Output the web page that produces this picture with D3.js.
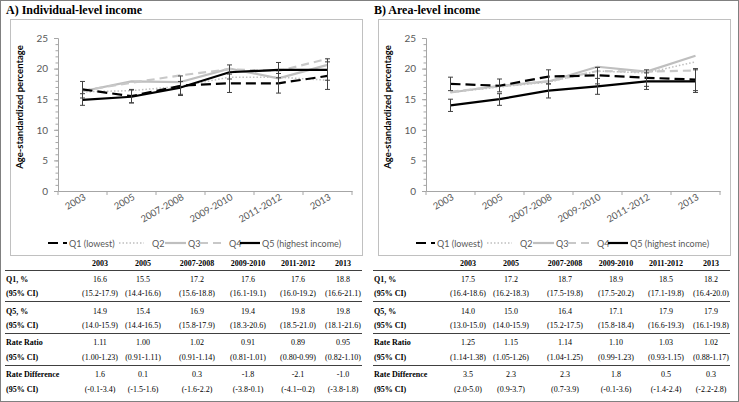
<!DOCTYPE html>
<html><head><meta charset="utf-8">
<script src="https://cdn.jsdelivr.net/npm/d3@7"></script>
<style>
html,body{margin:0;padding:0;background:#fff;}
svg{display:block;}
</style></head>
<body>
<svg id="c" width="739" height="402"></svg>
<script>
const categories = ["2003","2005","2007-2008","2009-2010","2011-2012","2013"];
const yTicks = [0,5,10,15,20,25];
const seriesNames = ["Q1 (lowest)","Q2","Q3","Q4","Q5 (highest income)"];

// Panel A: individual-level income
const indQ1 = [16.6,15.5,17.2,17.6,17.6,18.8];
const indQ1Lo = [15.2,14.4,15.6,16.1,16.0,16.6];
const indQ1Hi = [17.9,16.6,18.8,19.1,19.2,21.1];
const indQ2 = [16.2,16.4,17.1,18.6,18.6,18.1];
const indQ3 = [16.3,17.9,17.8,20.0,18.4,20.6];
const indQ4 = [16.4,17.7,18.9,19.9,19.6,21.6];
const indQ5 = [14.9,15.4,16.9,19.4,19.8,19.8];
const indQ5Lo = [14.0,14.4,15.8,18.3,18.5,18.1];
const indQ5Hi = [15.9,16.5,17.9,20.6,21.0,21.6];

// Panel B: area-level income
const areaQ1 = [17.5,17.2,18.7,18.9,18.5,18.2];
const areaQ1Lo = [16.4,16.2,17.5,17.5,17.1,16.4];
const areaQ1Hi = [18.6,18.3,19.8,20.2,19.8,20.0];
const areaQ2 = [16.1,17.0,17.8,19.6,19.3,21.1];
const areaQ3 = [16.1,17.2,17.9,20.3,19.5,22.1];
const areaQ4 = [16.2,17.1,17.9,19.6,19.5,19.7];
const areaQ5 = [14.0,15.0,16.4,17.1,17.9,17.9];
const areaQ5Lo = [13.0,14.0,15.2,15.8,16.6,16.1];
const areaQ5Hi = [15.0,15.9,17.5,18.4,19.3,19.8];

// Table rows
const rowLabels = ["Q1, %","(95% CI)","Q5, %","(95% CI)","Rate Ratio","(95% CI)","Rate Difference","(95% CI)"];
const indTable = [
 ["16.6","15.5","17.2","17.6","17.6","18.8"],
 ["(15.2-17.9)","(14.4-16.6)","(15.6-18.8)","(16.1-19.1)","(16.0-19.2)","(16.6-21.1)"],
 ["14.9","15.4","16.9","19.4","19.8","19.8"],
 ["(14.0-15.9)","(14.4-16.5)","(15.8-17.9)","(18.3-20.6)","(18.5-21.0)","(18.1-21.6)"],
 ["1.11","1.00","1.02","0.91","0.89","0.95"],
 ["(1.00-1.23)","(0.91-1.11)","(0.91-1.14)","(0.81-1.01)","(0.80-0.99)","(0.82-1.10)"],
 ["1.6","0.1","0.3","-1.8","-2.1","-1.0"],
 ["(-0.1-3.4)","(-1.5-1.6)","(-1.6-2.2)","(-3.8-0.1)","(-4.1--0.2)","(-3.8-1.8)"]
];
const areaTable = [
 ["17.5","17.2","18.7","18.9","18.5","18.2"],
 ["(16.4-18.6)","(16.2-18.3)","(17.5-19.8)","(17.5-20.2)","(17.1-19.8)","(16.4-20.0)"],
 ["14.0","15.0","16.4","17.1","17.9","17.9"],
 ["(13.0-15.0)","(14.0-15.9)","(15.2-17.5)","(15.8-18.4)","(16.6-19.3)","(16.1-19.8)"],
 ["1.25","1.15","1.14","1.10","1.03","1.02"],
 ["(1.14-1.38)","(1.05-1.26)","(1.04-1.25)","(0.99-1.23)","(0.93-1.15)","(0.88-1.17)"],
 ["3.5","2.3","2.3","1.8","0.5","0.3"],
 ["(2.0-5.0)","(0.9-3.7)","(0.7-3.9)","(-0.1-3.6)","(-1.4-2.4)","(-2.2-2.8)"]
];

const svg = d3.select("#c");
const sans = "Lato, 'Open Sans', sans-serif";
const serif = "'Liberation Serif', 'Times New Roman', serif";

// outer frame
svg.append("rect").attr("x",0.5).attr("y",0.5).attr("width",738).attr("height",401)
  .attr("fill","none").attr("stroke","#808080").attr("stroke-width",1);

const styles = [
  {stroke:"#000", dash:"10,5", w:2.2},
  {stroke:"#bfbfbf", dash:"1.5,2", w:1.5},
  {stroke:"#bfbfbf", dash:null, w:2.2},
  {stroke:"#c8c8c8", dash:"8,5", w:2.2},
  {stroke:"#000", dash:null, w:2.2}
];

function drawPanel(ox, title, series, q1Lo, q1Hi, q5Lo, q5Hi, table) {
  const g = svg.append("g").attr("transform", `translate(${ox},0)`);
  g.append("text").attr("x",6).attr("y",14).attr("font-family",serif).attr("font-weight","bold")
    .attr("font-size",12).attr("fill","#000").text(title);
  g.append("rect").attr("x",10.5).attr("y",19.5).attr("width",352).attr("height",236)
    .attr("fill","#fff").attr("stroke","#c0c0c0").attr("stroke-width",1);

  const x = d3.scaleBand().domain(categories).range([58,352]);
  const y = d3.scaleLinear().domain([0,25]).range([191,38]);

  // y axis
  const ya = g.append("g").attr("transform","translate(58,0)")
    .call(d3.axisLeft(y).tickValues(yTicks).tickSize(4).tickPadding(6));
  ya.select(".domain").attr("stroke","#a6a6a6");
  ya.selectAll(".tick line").attr("stroke","#a6a6a6");
  ya.selectAll(".tick text").attr("font-family",sans).attr("font-size",10).attr("fill","#595959");
  const ym = g.append("g").attr("transform","translate(58,0)")
    .call(d3.axisLeft(y).tickValues(d3.range(0,26,1)).tickSize(2.5).tickFormat(""));
  ym.select(".domain").remove();
  ym.selectAll(".tick line").attr("stroke","#a6a6a6");

  // x axis
  const xa = g.append("g").attr("transform","translate(0,191)")
    .call(d3.axisBottom(x).tickSize(0).tickFormat(""));
  xa.select(".domain").attr("stroke","#a6a6a6");
  const bounds = categories.map(c => x(c)).concat([x.range()[1]]);
  g.selectAll(".xt").data(bounds).enter().append("line")
    .attr("x1",d=>d).attr("x2",d=>d).attr("y1",191).attr("y2",195).attr("stroke","#a6a6a6");
  g.selectAll(".xl").data(categories).enter().append("text")
    .attr("transform", d => `translate(${x(d)+x.bandwidth()/2+4},199) rotate(-30)`)
    .attr("text-anchor","end").attr("font-family",sans).attr("font-size",9.5).attr("fill","#595959")
    .text(d=>d);

  // y label
  g.append("text").attr("transform","translate(23,107) rotate(-90)").attr("text-anchor","middle")
    .attr("font-family",sans).attr("font-weight","bold").attr("font-size",9.5).attr("fill","#000")
    .text("Age-standardized percentage");

  const line = d3.line().x((d,i)=>x(categories[i])+x.bandwidth()/2).y(d=>y(d));
  const order = [1,2,3,0,4];
  order.forEach(k => {
    const s = styles[k];
    g.append("path").datum(series[k]).attr("d",line).attr("fill","none")
      .attr("stroke",s.stroke).attr("stroke-width",s.w).attr("stroke-dasharray",s.dash)
      .attr("stroke-linejoin","round");
  });

  // error bars
  [[q1Lo,q1Hi],[q5Lo,q5Hi]].forEach(([lo,hi]) => {
    categories.forEach((c,i) => {
      const cx = x(c)+x.bandwidth()/2;
      g.append("line").attr("x1",cx).attr("x2",cx).attr("y1",y(lo[i])).attr("y2",y(hi[i]))
        .attr("stroke","#404040").attr("stroke-width",1);
      [lo[i],hi[i]].forEach(v => g.append("line").attr("x1",cx-2.5).attr("x2",cx+2.5)
        .attr("y1",y(v)).attr("y2",y(v)).attr("stroke","#404040").attr("stroke-width",1));
    });
  });

  // legend
  const leg = [
    {x1:48,x2:67,tx:69},
    {x1:119,x2:144,tx:152},
    {x1:165,x2:186,tx:188},
    {x1:200,x2:221,tx:229},
    {x1:240,x2:260,tx:262}
  ];
  leg.forEach((L,k) => {
    const s = styles[k];
    g.append("line").attr("x1",L.x1).attr("x2",L.x2).attr("y1",243).attr("y2",243)
      .attr("stroke",s.stroke).attr("stroke-width",s.w).attr("stroke-dasharray",s.dash);
    g.append("text").attr("x",L.tx).attr("y",246.5).attr("font-family",sans).attr("font-size",9)
      .attr("fill","#595959").text(seriesNames[k]);
  });

  // table
  const colX = [100,143,197,248,298,343];
  const hY = 266, rowY = [282,296,314,328,345,360,377,392];
  const fs = 8;
  g.selectAll(".th").data(categories).enter().append("text")
    .attr("x",(d,i)=>colX[i]).attr("y",hY).attr("text-anchor","middle")
    .attr("font-family",serif).attr("font-weight","bold").attr("font-size",fs).text(d=>d);
  [270,301,333,365].forEach(ly => g.append("line").attr("x1",5).attr("x2",362)
    .attr("y1",ly+0.5).attr("y2",ly+0.5).attr("stroke","#404040").attr("stroke-width",1));
  rowLabels.forEach((lab,r) => {
    g.append("text").attr("x",6).attr("y",rowY[r]).attr("font-family",serif).attr("font-weight","bold")
      .attr("font-size",fs).text(lab);
    table[r].forEach((v,i) => g.append("text").attr("x",colX[i]).attr("y",rowY[r])
      .attr("text-anchor","middle").attr("font-family",serif).attr("font-size",fs).text(v));
  });
}

drawPanel(0, "A) Individual-level income", [indQ1,indQ2,indQ3,indQ4,indQ5], indQ1Lo, indQ1Hi, indQ5Lo, indQ5Hi, indTable);
drawPanel(368, "B) Area-level income", [areaQ1,areaQ2,areaQ3,areaQ4,areaQ5], areaQ1Lo, areaQ1Hi, areaQ5Lo, areaQ5Hi, areaTable);
</script>
</body></html>
